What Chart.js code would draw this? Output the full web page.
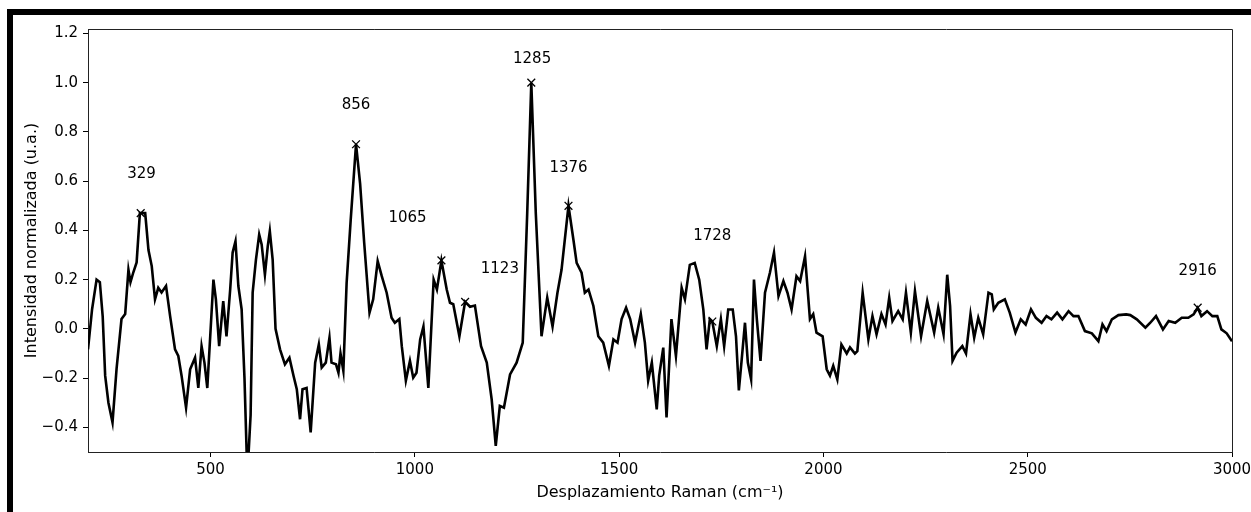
<!DOCTYPE html>
<html>
<head>
<meta charset="utf-8">
<script src="https://cdn.jsdelivr.net/npm/chart.js@4"></script>
<style>
    body { margin: 0; background: #fff; }
    #chart { display: block; }
</style>
</head>
<body>
<canvas id="chart" width="1251" height="512"></canvas>
<script>
// Raman spectrum
const ramanShift = [200, 210, 221, 229, 236, 242, 250, 260, 270, 282, 291, 299, 304, 311, 319, 327, 340, 348, 356, 364,
    372, 380, 391, 401, 413, 421, 429, 440, 450, 462, 470, 478, 485, 492, 507, 513, 521, 531, 539, 548,
    554, 561, 568, 576, 583, 590, 598, 603, 611, 619, 625, 633, 640, 645, 652, 659, 670, 682, 693, 703,
    711, 719, 725, 735, 745, 756, 765, 772, 782, 791, 796, 807, 813, 818, 825, 833, 843, 856, 866, 876,
    889, 898, 909, 919, 931, 943, 951, 962, 968, 978, 988, 996, 1004, 1013, 1021, 1033, 1046, 1054, 1065, 1078,
    1086, 1094, 1109, 1123, 1135, 1147, 1162, 1176, 1188, 1198, 1208, 1218, 1233, 1249, 1264, 1275, 1285, 1296, 1310, 1324,
    1337, 1349, 1359, 1376, 1388, 1396, 1408, 1416, 1425, 1437, 1449, 1461, 1475, 1486, 1496, 1506, 1517, 1527, 1539, 1553,
    1563, 1571, 1580, 1592, 1598, 1608, 1616, 1628, 1639, 1653, 1661, 1673, 1685, 1696, 1706, 1714, 1722, 1728, 1739, 1749,
    1757, 1767, 1778, 1786, 1793, 1800, 1808, 1815, 1823, 1830, 1837, 1846, 1857, 1869, 1879, 1890, 1902, 1912, 1922, 1934,
    1943, 1955, 1967, 1975, 1983, 1998, 2008, 2016, 2024, 2034, 2044, 2057, 2065, 2077, 2083, 2096, 2110, 2120, 2130, 2142,
    2152, 2161, 2169, 2183, 2194, 2202, 2214, 2224, 2239, 2254, 2271, 2281, 2294, 2303, 2310, 2316, 2326, 2340, 2349, 2360,
    2369, 2379, 2391, 2404, 2412, 2417, 2428, 2444, 2456, 2470, 2483, 2495, 2508, 2520, 2534, 2546, 2558, 2572, 2585, 2600,
    2612, 2624, 2640, 2657, 2673, 2683, 2693, 2706, 2722, 2741, 2751, 2767, 2788, 2800, 2814, 2831, 2845, 2861, 2877, 2893,
    2906, 2916, 2925, 2939, 2952, 2964, 2974, 2987, 3000];
const intensity = [-0.083, 0.08, 0.20, 0.19, 0.05, -0.19, -0.30, -0.38, -0.16, 0.04, 0.06, 0.24, 0.19, 0.23, 0.27, 0.47, 0.47, 0.32, 0.255, 0.12,
    0.167, 0.148, 0.174, 0.052, -0.083, -0.11, -0.19, -0.32, -0.164, -0.117, -0.24, -0.07, -0.137, -0.24, 0.20, 0.12, -0.07, 0.113, -0.03, 0.16,
    0.31, 0.356, 0.174, 0.08, -0.2, -0.6, -0.35, 0.147, 0.28, 0.383, 0.343, 0.22, 0.336, 0.397, 0.28, 0.0, -0.083, -0.144, -0.117, -0.19,
    -0.245, -0.367, -0.245, -0.24, -0.42, -0.137, -0.063, -0.157, -0.137, -0.036, -0.137, -0.144, -0.178, -0.10, -0.17, 0.187, 0.444, 0.75, 0.59, 0.35,
    0.066, 0.12, 0.275, 0.214, 0.147, 0.045, 0.025, 0.04, -0.07, -0.21, -0.13, -0.198, -0.178, -0.043, 0.01, -0.24, 0.20, 0.16, 0.278, 0.16,
    0.106, 0.10, -0.03, 0.11, 0.09, 0.095, -0.07, -0.137, -0.286, -0.475, -0.313, -0.32, -0.185, -0.137, -0.056, 0.47, 1.0, 0.47, -0.03, 0.127,
    0.01, 0.147, 0.24, 0.50, 0.363, 0.268, 0.228, 0.147, 0.16, 0.093, -0.03, -0.056, -0.15, -0.043, -0.056, 0.04, 0.086, 0.04, -0.056, 0.06,
    -0.056, -0.21, -0.137, -0.327, -0.19, -0.076, -0.36, 0.04, -0.11, 0.167, 0.12, 0.26, 0.268, 0.20, 0.079, -0.083, 0.04, 0.03, -0.07, 0.04,
    -0.07, 0.079, 0.079, -0.03, -0.25, -0.124, 0.025, -0.137, -0.205, 0.20, 0.04, -0.13, 0.147, 0.228, 0.31, 0.133, 0.194, 0.147, 0.079, 0.214,
    0.194, 0.295, 0.04, 0.06, -0.015, -0.03, -0.164, -0.19, -0.15, -0.205, -0.063, -0.10, -0.075, -0.10, -0.09, 0.147, -0.043, 0.052, -0.022, 0.06,
    0.018, 0.127, 0.032, 0.072, 0.039, 0.147, -0.015, 0.153, -0.03, 0.113, -0.015, 0.086, -0.022, 0.22, 0.093, -0.13, -0.097, -0.07, -0.10, 0.06,
    -0.036, 0.045, -0.022, 0.147, 0.14, 0.079, 0.106, 0.12, 0.066, -0.015, 0.039, 0.018, 0.079, 0.045, 0.025, 0.052, 0.039, 0.066, 0.039, 0.072,
    0.052, 0.052, -0.009, -0.018, -0.05, 0.018, -0.009, 0.039, 0.056, 0.059, 0.056, 0.039, 0.005, 0.025, 0.052, -0.002, 0.032, 0.025, 0.045, 0.045,
    0.059, 0.086, 0.052, 0.072, 0.052, 0.052, -0.002, -0.018, -0.05];

// Marked peaks and where their numbers sit
const peakShift = [329, 856, 1065, 1123, 1285, 1376, 1728, 2916];
const peakIntensity = [0.47, 0.75, 0.278, 0.11, 1.0, 0.50, 0.03, 0.086];
const peakLabelShift = [331, 856, 982, 1208, 1287, 1376, 1728, 2916];
const peakLabelIntensity = [0.627, 0.91, 0.448, 0.241, 1.097, 0.654, 0.376, 0.234];

const xTicks = [500, 1000, 1500, 2000, 2500, 3000];
const yTicks = [-0.4, -0.2, 0.0, 0.2, 0.4, 0.6, 0.8, 1.0, 1.2];

const FONT = 'DejaVu Sans';

// Draws the black frame, the top/right spines and the peak numbers
const extrasPlugin = {
    id: 'extras',
    beforeDraw(chart) {
        const ctx = chart.ctx;
        ctx.save();
        ctx.fillStyle = '#fff';
        ctx.fillRect(0, 0, chart.width, chart.height);
        ctx.fillStyle = '#000';
        ctx.fillRect(7, 9, chart.width - 7, 6);
        ctx.fillRect(7, 9, 6, chart.height - 9);
        ctx.restore();
    },
    afterDraw(chart) {
        const ctx = chart.ctx;
        const area = chart.chartArea;
        const xs = chart.scales.x;
        const ys = chart.scales.y;
        ctx.save();
        ctx.strokeStyle = '#222';
        ctx.lineWidth = 1;
        ctx.beginPath();
        ctx.moveTo(area.left, area.top + 0.5);
        ctx.lineTo(area.right + 0.5, area.top + 0.5);
        ctx.lineTo(area.right + 0.5, area.bottom);
        ctx.stroke();

        ctx.fillStyle = '#000';
        ctx.font = '15px "' + FONT + '"';
        ctx.textAlign = 'center';
        ctx.textBaseline = 'middle';
        peakShift.forEach((p, i) => {
            ctx.fillText(String(p), xs.getPixelForValue(peakLabelShift[i]), ys.getPixelForValue(peakLabelIntensity[i]));
        });
        ctx.restore();
    }
};

const ctx = document.getElementById('chart').getContext('2d');
new Chart(ctx, {
    type: 'scatter',
    data: {
        datasets: [
            {
                data: peakShift.map((x, i) => ({ x: x, y: peakIntensity[i] })),
                pointStyle: 'crossRot',
                pointRadius: 5.5,
                pointBorderWidth: 1.3,
                borderColor: '#000',
                backgroundColor: '#000',
                showLine: false,
                clip: 0
            },
            {
                data: ramanShift.map((x, i) => ({ x: x, y: intensity[i] })),
                showLine: true,
                borderColor: '#000',
                borderWidth: 2.6,
                pointRadius: 0,
                tension: 0,
                clip: 0
            }
        ]
    },
    options: {
        responsive: false,
        animation: false,
        events: [],
        layout: { padding: { top: 29, right: 19, left: 0, bottom: 0 } },
        plugins: {
            legend: { display: false },
            tooltip: { enabled: false }
        },
        scales: {
            x: {
                type: 'linear',
                min: 200,
                max: 3000,
                afterBuildTicks: scale => { scale.ticks = xTicks.map(v => ({ value: v })); },
                afterFit: scale => {
                    scale.height = 60;
                    scale.paddingLeft = 0;
                    scale.paddingRight = 0;
                },
                border: { color: '#222', width: 1 },
                grid: { drawOnChartArea: false, tickLength: 5, tickColor: '#000' },
                ticks: {
                    color: '#000',
                    padding: 4,
                    maxRotation: 0,
                    font: { family: FONT, size: 15 },
                    callback: v => String(v)
                },
                title: {
                    display: true,
                    text: 'Desplazamiento Raman (cm\u207B\u00B9)',
                    color: '#000',
                    font: { family: FONT, size: 16 },
                    padding: { top: 0, bottom: 10 }
                }
            },
            y: {
                min: -0.5,
                max: 1.218,
                afterBuildTicks: scale => { scale.ticks = yTicks.map(v => ({ value: v })); },
                afterFit: scale => {
                    scale.width = 88;
                    scale.paddingTop = 0;
                    scale.paddingBottom = 0;
                },
                border: { color: '#222', width: 1 },
                grid: { drawOnChartArea: false, tickLength: 5, tickColor: '#000' },
                ticks: {
                    color: '#000',
                    padding: 5,
                    font: { family: FONT, size: 15 },
                    callback: v => v.toFixed(1).replace('-', '\u2212')
                },
                title: {
                    display: true,
                    text: 'Intensidad normalizada (u.a.)',
                    color: '#000',
                    font: { family: FONT, size: 16 },
                    padding: { top: 22, bottom: 0 }
                }
            }
        }
    },
    plugins: [extrasPlugin]
});
</script>
</body>
</html>
